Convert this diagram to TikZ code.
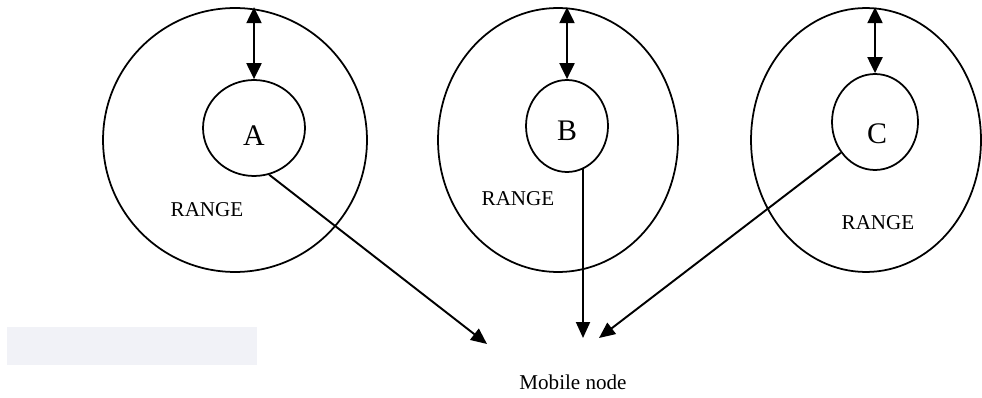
\documentclass[tikz,border=0pt]{standalone}
\usepackage{fontspec}
\setmainfont{Liberation Serif}
\usepackage{tikz}
\usetikzlibrary{shapes.geometric, arrows.meta, positioning}

\definecolor{panelgray}{HTML}{F1F2F7}

\begin{document}
\begin{tikzpicture}[x=0.02cm, y=-0.02cm,
		rangecirc/.style={draw, ellipse, line width=1pt, inner sep=0pt, minimum height=5.28cm},
		stationcirc/.style={draw, ellipse, line width=1pt, inner sep=0pt},
		letter/.style={font=\fontsize{17}{20}\selectfont, inner sep=0pt},
		rangetxt/.style={font=\fontsize{12}{14}\selectfont, inner sep=0pt},
		reach/.style={{Triangle[length=0.32cm, width=0.3cm]}-{Triangle[length=0.32cm, width=0.3cm]}, line width=1.2pt},
		link/.style={-{Triangle[length=0.32cm, width=0.28cm]}, line width=1.1pt}]
		
		\useasboundingbox (0,0) rectangle (982,398);
		
		% stray box on the left
		\fill[panelgray] (7,327) rectangle (257,365);
		
		% Station A
		\node[rangecirc, minimum width=5.28cm] (outerA) at (235,140) {};
		\node[stationcirc, minimum width=2.04cm, minimum height=1.92cm] (innerA) at (254,128) {};
		\node[letter] (labA) at (254,136) {A};
		\node[rangetxt] (rangeA) at (207,210) {RANGE};
		\draw[reach] (innerA.north |- outerA.north) -- (innerA.north);
		
		% Station B
		\node[rangecirc, minimum width=4.8cm] (outerB) at (558,140) {};
		\node[stationcirc, minimum width=1.64cm, minimum height=1.84cm] (innerB) at (567,126) {};
		\node[letter] (labB) at (567,131) {B};
		\node[rangetxt] (rangeB) at (518,199) {RANGE};
		\draw[reach] (innerB.north |- outerB.north) -- (innerB.north);
		
		% Station C
		\node[rangecirc, minimum width=4.6cm] (outerC) at (866,140) {};
		\node[stationcirc, minimum width=1.72cm, minimum height=1.92cm] (innerC) at (875,122) {};
		\node[letter] (labC) at (877,134) {C};
		\node[rangetxt] (rangeC) at (878,223) {RANGE};
		\draw[reach] (innerC.north |- outerC.north) -- (innerC.north);
		
		% Mobile node
		\node[rangetxt] (mobile) at (573,382) {Mobile node};
		\coordinate (tipA) at (487,344);
		\coordinate (tipB) at (583,338);
		\coordinate (tipC) at (599,338);
		
		\draw[link] (innerA.-72) -- (tipA);
		\draw[link] (tipB |- innerB.-69) -- (tipB);
		\draw[link] (innerC.-138) -- (tipC);
		
	\end{tikzpicture}
\end{document}
